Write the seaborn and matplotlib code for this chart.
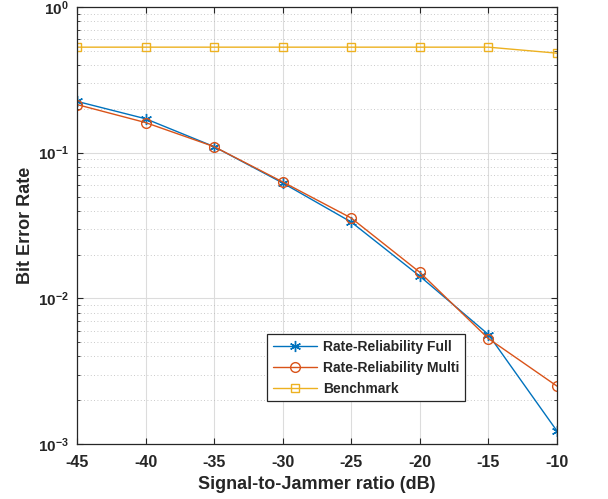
import matplotlib
matplotlib.use("Agg")
import matplotlib.pyplot as plt
import seaborn as sns
import numpy as np
import pandas as pd
from matplotlib.ticker import FixedLocator, LogLocator, NullFormatter

sjr = [-45, -40, -35, -30, -25, -20, -15, -10]
ber_full = [0.225, 0.171, 0.110, 0.062, 0.0334, 0.0142, 0.00565, 0.00123]
ber_multi = [0.214, 0.161, 0.110, 0.063, 0.0356, 0.0151, 0.0053, 0.0025]
ber_bench = [0.53, 0.53, 0.53, 0.53, 0.53, 0.53, 0.53, 0.482]
series_names = ["Rate-Reliability Full", "Rate-Reliability Multi", "Benchmark"]
x_ticks = [-45, -40, -35, -30, -25, -20, -15, -10]
y_ticks = [1e-3, 1e-2, 1e-1, 1e0]
y_tick_labels = [r"$\mathbf{10^{-3}}$", r"$\mathbf{10^{-2}}$", r"$\mathbf{10^{-1}}$", r"$\mathbf{10^{0}}$"]

sns.set_style("ticks")
plt.rcParams["font.family"] = ["Liberation Sans", "DejaVu Sans"]
plt.rcParams["font.weight"] = "bold"
plt.rcParams["mathtext.fontset"] = "custom"
plt.rcParams["mathtext.bf"] = "Liberation Sans:bold"
plt.rcParams["mathtext.rm"] = "Liberation Sans:bold"

fig = plt.figure(figsize=(6.08, 4.99), dpi=100)
ax = fig.add_axes([0.1266, 0.110, 0.7895, 0.876])

colors = ["#0072BD", "#D95319", "#EDB120"]
markers = ["*", "o", "s"]
msizes = [8, 7, 6]
for name, vals, c, m, ms in zip(series_names, [ber_full, ber_multi, ber_bench], colors, markers, msizes):
    df = pd.DataFrame({"x": sjr, "y": vals})
    sns.lineplot(data=df, x="x", y="y", ax=ax, color=c, marker=m, markersize=ms,
                 markerfacecolor="none", markeredgecolor=c, markeredgewidth=1.0,
                 linewidth=1.0, label=name)
for line in ax.get_lines()[:1]:
    line.set_marker((6, 2, 0))

ax.set_yscale("log")
ax.set_xlim(-45, -10)
ax.set_ylim(1e-3, 1)
ax.xaxis.set_major_locator(FixedLocator(x_ticks))
ax.set_xticklabels([str(t) for t in x_ticks], fontsize=11.5, fontweight="bold")
ax.yaxis.set_major_locator(FixedLocator(y_ticks))
ax.set_yticklabels(y_tick_labels, fontsize=11)
ax.yaxis.set_minor_locator(LogLocator(base=10, subs=np.arange(2, 10)))
ax.yaxis.set_minor_formatter(NullFormatter())

ax.grid(True, which="major", color="#dcdcdc", linewidth=0.8, linestyle="-")
ax.grid(True, which="minor", axis="y", color="#b8b8b8", linewidth=0.6, linestyle=(0, (1, 3)))
ax.set_axisbelow(True)
ax.tick_params(which="both", direction="in", top=True, right=True, color="#262626")
ax.tick_params(which="major", length=4, pad=6)
ax.tick_params(axis="x", which="major", pad=8)
ax.tick_params(which="minor", length=2.5)
for sp in ax.spines.values():
    sp.set_color("#262626")
    sp.set_linewidth(0.9)

ax.set_xlabel("Signal-to-Jammer ratio (dB)", fontsize=13, fontweight="bold", labelpad=4)
ax.set_ylabel("Bit Error Rate", fontsize=13, fontweight="bold", labelpad=3)

leg = ax.legend(loc="lower left", bbox_to_anchor=(0.382, 0.082), fontsize=10,
                frameon=True, fancybox=False, edgecolor="#262626", framealpha=1,
                handlelength=3.2, borderpad=0.4, labelspacing=0.5, handletextpad=0.4)
leg.get_frame().set_linewidth(0.9)
for t in leg.get_texts():
    t.set_fontweight("bold")

fig.savefig("out.png", dpi=100)
